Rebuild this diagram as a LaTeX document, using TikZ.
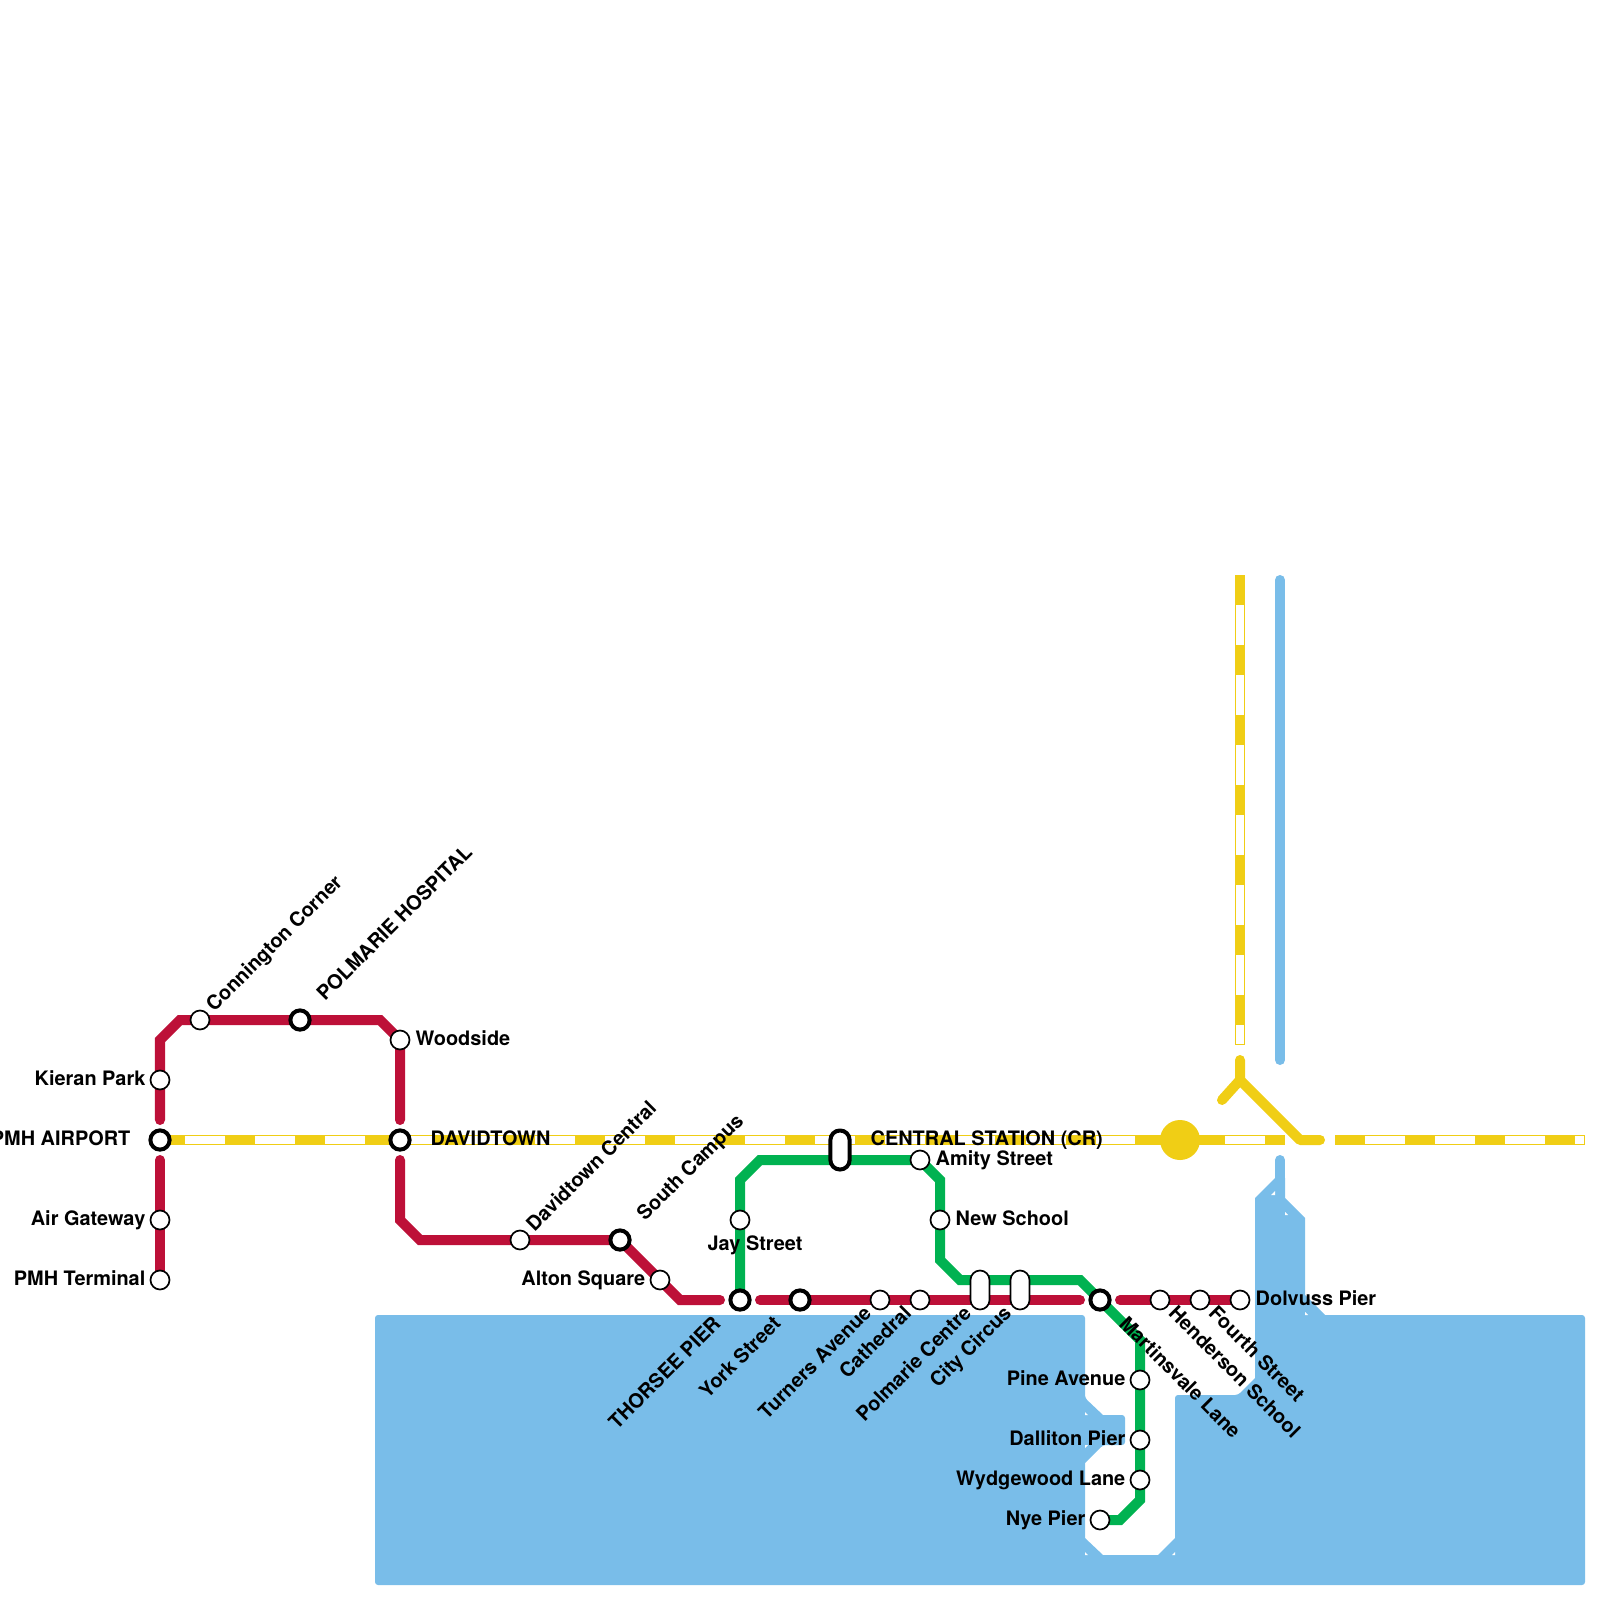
\documentclass[tikz,border=0pt]{standalone}
\usepackage{fontspec}
\setmainfont{TeX Gyre Heros}
\usetikzlibrary{backgrounds}
\definecolor{redline}{HTML}{BD1038}
\definecolor{yellowline}{HTML}{F0CE15}
\definecolor{greenline}{HTML}{00B251}
\definecolor{water}{HTML}{79BDE9}
\tikzset{
  stn/.style={circle,draw=black,fill=white,line width=0.17mm,minimum size=1.9mm,inner sep=0pt},
  hub/.style={circle,draw=black,fill=white,line width=0.4mm,minimum size=1.92mm,inner sep=0pt},
  capsule/.style={rectangle,draw=black,fill=white,line width=0.17mm,rounded corners=0.95mm,minimum width=1.9mm,minimum height=3.9mm,inner sep=0pt},
  hubcapsule/.style={capsule,line width=0.4mm,minimum width=1.92mm,minimum height=3.9mm},
  track/.style={line width=1mm,line cap=round},
  railbase/.style={line width=1mm,draw=yellowline},
  railgap/.style={line width=0.8mm,draw=white,dash pattern=on 0.4cm off 0.3cm},
  lab/.style={font=\bfseries\fontsize{5.66}{6}\selectfont,inner sep=0pt},
  labr/.style={lab,anchor=base west},
  labl/.style={lab,anchor=base east},
}
\begin{document}
\begin{tikzpicture}[x=0.01cm,y=-0.01cm]
\useasboundingbox (0,0) rectangle (1600,1600);
% stations
\foreach \n/\x/\y in {kieran/160/1080,airgate/160/1220,pmhterm/160/1280,conning/200/1020,woodside/400/1040,davcentral/520/1240,alton/660/1280,jay/740/1220,amity/920/1160,newschool/940/1220,turners/880/1300,cathedral/920/1300,henderson/1160/1300,fourth/1200/1300,dolvuss/1240/1300,pine/1140/1380,dalliton/1140/1440,wydgewood/1140/1480,nye/1100/1520}
  \node[stn] (\n) at (\x,\y) {};
\foreach \n/\x/\y in {airport/160/1140,polhosp/300/1020,davidtown/400/1140,southcampus/620/1240,thorsee/740/1300,york/800/1300,martinsvale/1100/1300}
  \node[hub] (\n) at (\x,\y) {};
\node[hubcapsule] (central) at (840,1150) {};
\node[capsule] (polcentre) at (980,1290) {};
\node[capsule] (citycircus) at (1020,1290) {};
\node[circle,fill=yellowline,minimum size=4mm,inner sep=0pt] (crdot) at (1180,1140) {};
% bends and free ends
\foreach \n/\x/\y in {ra/160/1120,rb/160/1040,rc/180/1020,rd/380/1020,re/400/1120,rf/160/1160,rg/400/1160,rh/400/1220,ri/420/1240,rj/680/1300,rk/720/1300,rl/760/1300,rm/1080/1300,rn/1120/1300,ga/740/1180,gb/760/1160,gc/940/1180,gd/940/1260,ge/960/1280,gf/1080/1280,gg/1140/1340,gh/1140/1500,gi/1120/1520,ya/1285/1140,yb/1135/1140,yc/1335/1140,yd/1585/1140,ye/1583.5/1140,yf/1240/575,yg/1240/1045,yh/1240/1043.5,yi/1240/1060,yj/1240/1080,yk/1222/1100,yl/1300/1140,ym/1320/1140,ba/1280/580,bb/1280/1060,bc/1280/1160,bd/1280/1200}
  \coordinate (\n) at (\x,\y);
\begin{scope}[on background layer]
\fill[water] (400,1315) [rounded corners=0.03cm] -- (1085,1315) -- (1085,1398) [sharp corners] -- (1103,1415) [rounded corners=0.03cm] -- (1125,1415) -- (1125,1445) -- (1103,1445) [sharp corners] -- (1085,1463) -- (1085,1538) -- (1103,1555) -- (1158,1555) -- (1175,1538) [rounded corners=0.03cm] -- (1175,1395) -- (1238,1395) [sharp corners] -- (1255,1378) -- (1255,1198) -- (1275,1178) -- (1285,1178) -- (1285,1198) -- (1305,1218) -- (1305,1295) -- (1325,1315) [rounded corners=0.03cm] -- (1585,1315) -- (1585,1585) -- (375,1585) -- (375,1315) -- cycle;
\draw[track,water] (ba) -- (bb);
\draw[track,water] (bc) -- (bd);
\foreach \x/\y/\u/\v in {1275/1195/-4/-4,1285/1215/3/-3,1305/1315/3/-3,1085/1415/3/-3,1085/1445/3/3,1085/1555/3/-3,1175/1555/-3/-3}
  \fill[white] (\x,\y) -- +(\u,0) -- +(0,\v) -- cycle;
% yellow rail
\draw[railbase] (airport.center) -- (crdot.center) -- (ya);
\draw[railbase] (yc) -- (yd);
\draw[railbase] (yf) -- (yg);
\draw[railgap,dash phase=0.45cm] (airport.center) -- (yb);
\draw[railgap,dash phase=0.25cm] (crdot.center) -- (ya);
\draw[railgap,dash phase=0.4cm] (yc) -- (ye);
\draw[railgap,dash phase=0.4cm] (yf) -- (yh);
\draw[track,yellowline,line join=round] (yi) -- (yj) -- (yk);
\draw[track,yellowline,line join=round] (yj) -- (yl) -- (ym);
% red line
\draw[track,redline] (ra) -- (kieran.center) -- (rb) -- (rc) -- (conning.center) -- (polhosp.center) -- (rd) -- (woodside.center) -- (re);
\draw[track,redline] (rf) -- (airgate.center) -- (pmhterm.center);
\draw[track,redline] (rg) -- (rh) -- (ri) -- (davcentral.center) -- (southcampus.center) -- (alton.center) -- (rj) -- (rk);
\draw[track,redline] (rl) -- (york.center) -- (turners.center) -- (cathedral.center) -- (rm);
\draw[track,redline] (rn) -- (henderson.center) -- (fourth.center) -- (dolvuss.center);
% green line
\draw[track,greenline] (thorsee.center) -- (jay.center) -- (ga) -- (gb) -- (amity.center) -- (gc) -- (newschool.center) -- (gd) -- (ge) -- (gf) -- (martinsvale.center) -- (gg) -- (pine.center) -- (dalliton.center) -- (wydgewood.center) -- (gh) -- (gi) -- (nye.center);
\end{scope}
% labels
\node[labl] (lkieran) at (146,1085) {Kieran Park};
\node[labl] (lairport) at (131,1145) {PMH AIRPORT};
\node[labl] (lairgate) at (146,1225) {Air Gateway};
\node[labl] (lpmhterm) at (146,1285) {PMH Terminal};
\node[labr] (lwoodside) at (415,1045) {Woodside};
\node[labr] (ldavidtown) at (430,1145) {DAVIDTOWN};
\node[labl] (lalton) at (646,1285) {Alton Square};
\node[lab] (ljay) at (755,1245) {Jay Street};
\node[labr] (lcentral) at (870,1145) {CENTRAL STATION (CR)};
\node[labr] (lamity) at (935,1165) {Amity Street};
\node[labr] (lnewschool) at (955,1225) {New School};
\node[labr] (ldolvuss) at (1255,1305) {Dolvuss Pier};
\node[labl] (lpine) at (1126,1385) {Pine Avenue};
\node[labl] (ldalliton) at (1126,1445) {Dalliton Pier};
\node[labl] (lwydgewood) at (1126,1485) {Wydgewood Lane};
\node[labl] (lnye) at (1086,1525) {Nye Pier};
\node[labr,rotate=45] (lconning) at (214,1013) {Connington Corner};
\node[labr,rotate=45] (lpolhosp) at (324.7,1002.3) {POLMARIE HOSPITAL};
\node[labr,rotate=45] (ldavcentral) at (534,1233) {Davidtown Central};
\node[labr,rotate=45] (lsouthcampus) at (644.7,1222.3) {South Campus};
\node[labl,rotate=45] (lthorsee) at (722.3,1324.7) {THORSEE PIER};
\node[labl,rotate=45] (lyork) at (782.3,1324.7) {York Street};
\node[labl,rotate=45] (lturners) at (873,1314) {Turners Avenue};
\node[labl,rotate=45] (lcathedral) at (913,1314) {Cathedral};
\node[labl,rotate=45] (lpolcentre) at (973,1314) {Polmarie Centre};
\node[labl,rotate=45] (lcitycircus) at (1013,1314) {City Circus};
\node[labr,rotate=-45] (lmartinsvale) at (1117.7,1324.7) {Martinsvale Lane};
\node[labr,rotate=-45] (lhenderson) at (1167,1314) {Henderson School};
\node[labr,rotate=-45] (lfourth) at (1207,1314) {Fourth Street};
\end{tikzpicture}
\end{document}
